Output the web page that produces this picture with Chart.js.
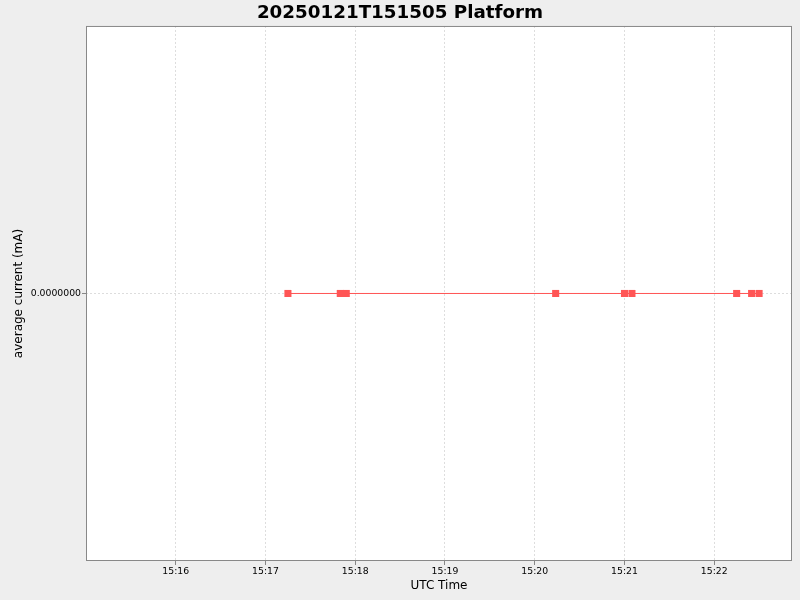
<!DOCTYPE html>
<html>
<head>
<meta charset="utf-8">
<script src="https://cdn.jsdelivr.net/npm/chart.js@4"></script>
<style>
    html, body { margin: 0; padding: 0; background: #eeeeee; }
    #wrap { width: 800px; height: 600px; }
</style>
</head>
<body>
<div id="wrap"><canvas id="chartCurrent" width="800" height="600"></canvas></div>
<script>
// sample times in seconds after 15:00:00 UTC
var sampleTimes = [1035, 1070, 1074, 1214, 1260, 1265, 1335, 1345, 1350];
var currentValues = [0, 0, 0, 0, 0, 0, 0, 0, 0];
var timeTicks = [960, 1020, 1080, 1140, 1200, 1260, 1320];
var currentTicks = [0];

function hhmm(sec) {
    var m = Math.round(sec / 60);
    var h = 15 + Math.floor(m / 60);
    m = m % 60;
    return h + ":" + (m < 10 ? "0" + m : m);
}

const plotBackground = {
    id: "plotBackground",
    beforeDraw(chart) {
        const ctx = chart.ctx, a = chart.chartArea;
        ctx.save();
        ctx.fillStyle = "#eeeeee";
        ctx.fillRect(0, 0, chart.width, chart.height);
        ctx.fillStyle = "#ffffff";
        ctx.fillRect(a.left, a.top, a.right - a.left, a.bottom - a.top);
        ctx.restore();
    },
    beforeDatasetsDraw(chart) {
        const ctx = chart.ctx, a = chart.chartArea;
        ctx.save();
        ctx.strokeStyle = "#888888";
        ctx.lineWidth = 1;
        ctx.strokeRect(a.left + 0.5, a.top + 0.5, a.right - a.left - 1, a.bottom - a.top - 1);
        ctx.restore();
    }
};

const dataCurrent = {
    datasets: [
        {
            label: "average current",
            data: sampleTimes.map((t, i) => ({ x: t, y: currentValues[i] })),
            borderColor: "#ff5555",
            borderWidth: 1,
            backgroundColor: "#ff5555",
            pointStyle: "rect",
            pointRadius: 5,
            pointBorderWidth: 0,
            pointBackgroundColor: "#ff5555",
            tension: 0,
        },
    ],
};

const gridStyle = {
    color: "#dddddd",
    tickColor: "#888888",
    tickLength: 4,
};

const configCurrent = {
    type: "line",
    data: dataCurrent,
    plugins: [plotBackground],
    options: {
        responsive: false,
        animation: false,
        devicePixelRatio: 1,
        layout: { padding: 0 },
        plugins: {
            legend: false,
            tooltip: false,
            title: {
                display: true,
                text: "20250121T151505 Platform",
                color: "#000000",
                font: { family: "DejaVu Sans", size: 18.3, weight: "bold" },
                padding: { top: 2.5, bottom: 1.5 },
            },
        },
        scales: {
            x: {
                type: "linear",
                min: 900,
                max: 1372,
                afterBuildTicks: (scale) => { scale.ticks = timeTicks.map(v => ({ value: v })); },
                afterFit: (scale) => { scale.height = 39; },
                ticks: {
                    color: "#000000",
                    font: { family: "DejaVu Sans", size: 9.3 },
                    padding: 1.5,
                    maxRotation: 0,
                    autoSkip: false,
                    callback: (v) => hhmm(v),
                },
                grid: gridStyle,
                border: { display: false, dash: [2, 2] },
                title: {
                    display: true,
                    text: "UTC Time",
                    color: "#000000",
                    font: { family: "DejaVu Sans", size: 12 },
                    padding: { top: 0, bottom: 7 },
                },
            },
            y: {
                type: "linear",
                min: -1,
                max: 1,
                afterBuildTicks: (scale) => { scale.ticks = currentTicks.map(v => ({ value: v })); },
                afterFit: (scale) => { scale.width = 86; },
                ticks: {
                    color: "#000000",
                    font: { family: "DejaVu Sans", size: 9.3 },
                    padding: 1,
                    callback: (v) => Number(v).toFixed(7),
                },
                grid: gridStyle,
                border: { display: false, dash: [2, 2] },
                title: {
                    display: true,
                    text: "average current (mA)",
                    color: "#000000",
                    font: { family: "DejaVu Sans", size: 12 },
                    padding: { top: 12, bottom: 0 },
                },
            },
            // empty strip on the right so the plot stops at x=792
            yRight: {
                type: "linear",
                position: "right",
                display: true,
                min: -1,
                max: 1,
                afterFit: (scale) => { scale.width = 8; },
                ticks: { display: false },
                grid: { display: false, drawTicks: false },
                border: { display: false },
            },
        },
    },
};

var chartCurrent = new Chart(document.getElementById("chartCurrent"), configCurrent);
</script>
</body>
</html>
